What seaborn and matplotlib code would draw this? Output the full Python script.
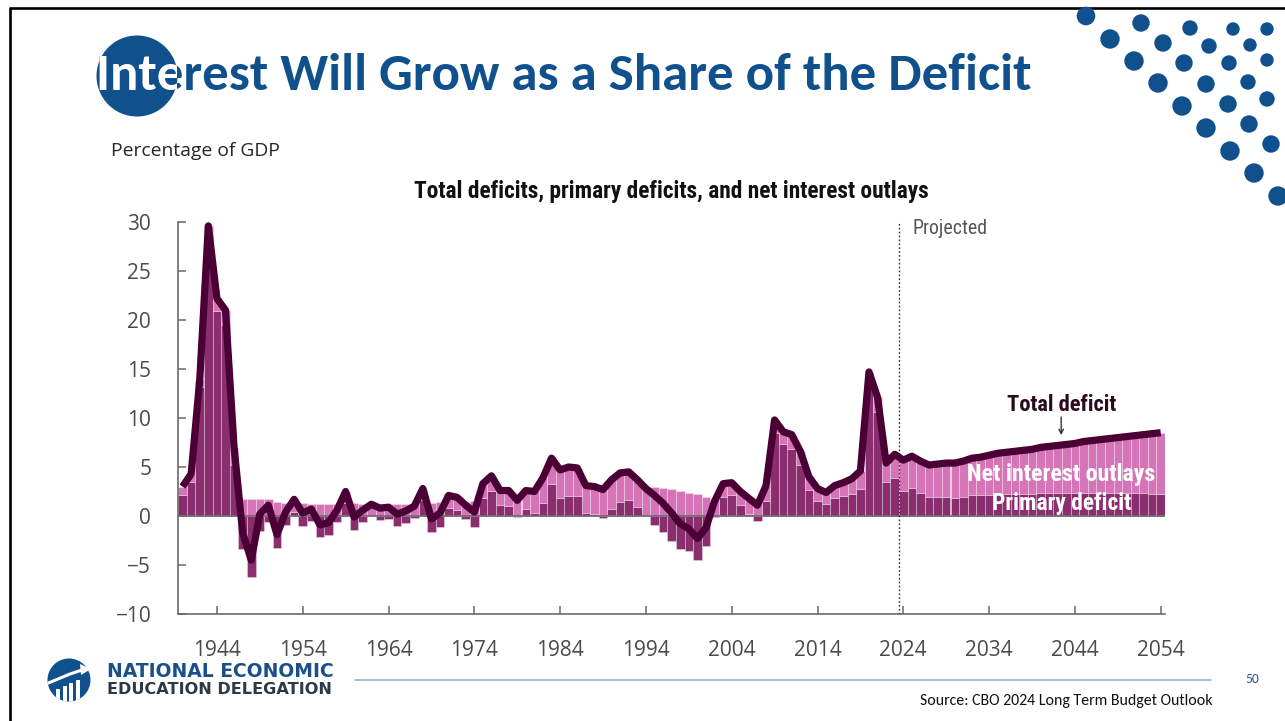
import numpy as np
import pandas as pd
import matplotlib
matplotlib.use("Agg")
import matplotlib.pyplot as plt
from matplotlib import font_manager as fm
from matplotlib.patches import Circle, Rectangle, Polygon
from matplotlib.transforms import Bbox
import seaborn as sns

# ---------------------------------------------------------------------------
# Data: fiscal years, percentage of GDP (1940-2023 actual, 2024-2054 projected)
# ---------------------------------------------------------------------------
years = list(range(1940, 2055))

total_deficit = [
    3.0, 4.3, 13.9, 29.6, 22.2, 21.0, 7.0, -1.7, -4.5, 0.2,       # 1940s
    1.1, -1.9, 0.4, 1.7, 0.3, 0.7, -0.9, -0.7, 0.6, 2.5,          # 1950s
    -0.1, 0.6, 1.2, 0.8, 0.9, 0.2, 0.5, 1.0, 2.8, -0.3,           # 1960s
    0.3, 2.1, 1.9, 1.1, 0.4, 3.3, 4.1, 2.6, 2.6, 1.6,             # 1970s
    2.6, 2.5, 3.9, 5.9, 4.7, 5.0, 4.9, 3.1, 3.0, 2.7,             # 1980s
    3.7, 4.4, 4.5, 3.7, 2.8, 2.1, 1.3, 0.3, -0.8, -1.3,           # 1990s
    -2.3, -1.2, 1.5, 3.3, 3.4, 2.5, 1.8, 1.1, 3.1, 9.8,           # 2000s
    8.6, 8.3, 6.6, 4.0, 2.8, 2.4, 3.1, 3.4, 3.8, 4.6,             # 2010s
    14.7, 12.1, 5.4, 6.3,                                          # 2020-2023
    5.7, 6.1, 5.6, 5.2, 5.3, 5.4, 5.4,                             # 2024-2030
    5.6, 5.9, 6.0, 6.2, 6.4, 6.5, 6.6, 6.7, 6.8, 7.0,             # 2031-2040
    7.1, 7.2, 7.3, 7.4, 7.6, 7.7, 7.8, 7.9, 8.0, 8.1,             # 2041-2050
    8.2, 8.3, 8.4, 8.5,                                            # 2051-2054
]

net_interest = [
    0.9, 0.8, 0.7, 0.9, 1.3, 1.5, 1.8, 1.7, 1.7, 1.7,
    1.7, 1.4, 1.3, 1.3, 1.3, 1.2, 1.2, 1.2, 1.2, 1.2,
    1.3, 1.2, 1.2, 1.2, 1.2, 1.2, 1.2, 1.2, 1.2, 1.3,
    1.4, 1.3, 1.3, 1.4, 1.5, 1.5, 1.5, 1.5, 1.6, 1.7,
    1.9, 2.2, 2.6, 2.6, 2.9, 3.0, 2.9, 2.8, 2.8, 2.9,
    3.0, 3.0, 2.9, 2.8, 2.7, 3.0, 2.9, 2.8, 2.6, 2.3,
    2.2, 1.9, 1.6, 1.4, 1.3, 1.4, 1.6, 1.6, 1.6, 1.3,
    1.3, 1.5, 1.4, 1.3, 1.3, 1.2, 1.3, 1.4, 1.6, 1.8,
    1.6, 1.5, 1.9, 2.4,
    3.1, 3.2, 3.3, 3.3, 3.4, 3.5, 3.6,
    3.7, 3.8, 3.9, 4.1, 4.2, 4.3, 4.4, 4.5, 4.6, 4.7,
    4.8, 4.9, 5.0, 5.1, 5.3, 5.4, 5.5, 5.6, 5.7, 5.8,
    5.9, 6.0, 6.2, 6.3,
]

primary_deficit = [
    2.1, 3.5, 13.2, 28.7, 20.9, 19.5, 5.2, -3.4, -6.2, -1.5,
    -0.6, -3.3, -0.9, 0.4, -1.0, -0.5, -2.1, -1.9, -0.6, 1.3,
    -1.4, -0.6, 0.0, -0.4, -0.3, -1.0, -0.7, -0.2, 1.6, -1.6,
    -1.1, 0.8, 0.6, -0.3, -1.1, 1.8, 2.6, 1.1, 1.0, -0.1,
    0.7, 0.3, 1.3, 3.3, 1.8, 2.0, 2.0, 0.3, 0.2, -0.2,
    0.7, 1.4, 1.6, 0.9, 0.1, -0.9, -1.6, -2.5, -3.4, -3.6,
    -4.5, -3.1, -0.1, 1.9, 2.1, 1.1, 0.2, -0.5, 1.5, 8.5,
    7.3, 6.8, 5.2, 2.7, 1.5, 1.2, 1.8, 2.0, 2.2, 2.8,
    13.1, 10.6, 3.5, 3.9,
    2.6, 2.9, 2.3, 1.9, 1.9, 1.9, 1.8,
    1.9, 2.1, 2.1, 2.1, 2.2, 2.2, 2.2, 2.2, 2.2, 2.3,
    2.3, 2.3, 2.3, 2.3, 2.3, 2.3, 2.3, 2.3, 2.3, 2.3,
    2.3, 2.3, 2.2, 2.2,
]

x_ticks = list(range(1944, 2055, 10))
y_ticks = list(range(-10, 31, 5))
first_projected_year = 2024

# ---------------------------------------------------------------------------
# Styling
# ---------------------------------------------------------------------------
W, H = 1285, 721
BLUE = "#10508C"
DARK = "#8A2E70"
PINK = "#D575B8"
LINE = "#4A0034"
AXIS_GREY = "#6A6A6A"
TICK_TEXT = "#4A4A4A"


def pick(*names):
    for n in names:
        try:
            fm.findfont(fm.FontProperties(family=n), fallback_to_default=False)
            return n
        except Exception:
            pass
    return "DejaVu Sans"


BODY = pick("Open Sans", "Lato", "Roboto", "DejaVu Sans")
NARROW = pick("Liberation Sans Narrow", "Roboto Condensed", "Open Sans Condensed",
              "DejaVu Sans Condensed", "Roboto")
TITLE_FONT = pick("Carlito", "Lato", "Open Sans")
LOGO_FONT = pick("DejaVu Sans", "Liberation Sans")

sns.set_theme(style="white")
plt.rcParams["font.family"] = [BODY, "DejaVu Sans"]
plt.rcParams["axes.unicode_minus"] = True

fig = plt.figure(figsize=(W / 100, H / 100), dpi=100)
fig.patch.set_facecolor("white")

# Full-figure overlay in pixel units (origin top-left) for slide decorations
deco = fig.add_axes([0, 0, 1, 1])
deco.set_xlim(0, W)
deco.set_ylim(H, 0)
deco.axis("off")


def fit(t, target_px):
    r = fig.canvas.get_renderer()
    w = t.get_window_extent(renderer=r).width
    if w > 0:
        t.set_fontsize(t.get_fontsize() * target_px / w)


# Slide frame
deco.plot([9, W], [8, 8], color="black", lw=1.9, solid_capstyle="butt", zorder=1)
deco.plot([9.5, 9.5], [8, H], color="black", lw=1.9, solid_capstyle="butt", zorder=1)

# Dotted ornament, top right
dots = [
    (1086, 16, 9.3), (1141, 23, 8.7), (1190, 28, 7.7), (1233, 29, 6.7), (1267, 29, 6.7),
    (1110, 39, 9.7), (1163, 43, 8.7), (1209, 46, 7.7), (1250, 45, 6.7),
    (1134, 61, 9.7), (1184, 63, 8.7), (1229, 63, 7.7), (1267, 60, 6.7),
    (1158, 83, 9.7), (1206, 84, 8.7), (1248, 82, 7.7),
    (1182, 106, 9.7), (1228, 104, 8.7), (1267, 99, 7.7),
    (1206, 128, 9.7), (1249, 124, 8.7),
    (1230, 151, 9.7), (1271, 144, 8.7),
    (1254, 173, 9.7), (1278, 196, 9.7),
]
for cx, cy, r in dots:
    deco.add_patch(Circle((cx, cy), r, facecolor=BLUE, edgecolor="none", zorder=2))

# Slide title with the white-on-blue circle behind the first letters
title_txt = "Interest Will Grow as a Share of the Deficit"
title_circle = Circle((137, 76), 40.5, facecolor=BLUE, edgecolor="none", zorder=2)
deco.add_patch(title_circle)
t_blue = deco.text(96, 90, title_txt, color=BLUE, fontsize=34, fontweight="bold",
                   family=TITLE_FONT, ha="left", va="baseline", zorder=3)
fit(t_blue, 936)
t_white = deco.text(96, 90, title_txt, color="white", fontsize=t_blue.get_fontsize(),
                    fontweight="bold", family=TITLE_FONT, ha="left", va="baseline",
                    zorder=4, clip_on=True)
# white part limited to the circle's horizontal extent (display pixels, origin bottom-left)
t_white.set_clip_box(Bbox.from_extents(90, H - 120, 176.5, H - 30))

# Unit label and chart heading
t = deco.text(111, 156, "Percentage of GDP", color="#262626", fontsize=13,
              family=BODY, ha="left", va="baseline")
fit(t, 168)
t = deco.text(671, 198, "Total deficits, primary deficits, and net interest outlays",
              color="#111111", fontsize=14, fontweight="bold", family=NARROW,
              ha="center", va="baseline")
fit(t, 520)

# Footer: logo, rule, page number, source
logo = Circle((69, 680), 21.5, facecolor=BLUE, edgecolor="none", zorder=2)
deco.add_patch(logo)
logo_clip = Circle((69, 680), 21.5, transform=deco.transData)
for bx, top in [(56, 689), (62.5, 686), (69, 683), (75.5, 680)]:
    bar = Rectangle((bx, top), 4.2, 30, facecolor="white", edgecolor="none", zorder=3)
    deco.add_patch(bar)
    bar.set_clip_path(logo_clip)
swoosh, = deco.plot([46, 58, 70, 82], [684, 679, 674, 670], color="white", lw=2.2,
                    solid_capstyle="butt", zorder=3)
swoosh.set_clip_path(logo_clip)
head = Polygon([[80, 664], [91, 669], [81, 675]], closed=True, facecolor="white",
               edgecolor="none", zorder=3)
deco.add_patch(head)

t = deco.text(107, 677, "NATIONAL ECONOMIC", color="#1A4F8B", fontsize=12,
              fontweight="bold", family=LOGO_FONT, ha="left", va="baseline")
fit(t, 226)
t = deco.text(107, 694, "EDUCATION DELEGATION", color="#2C3A46", fontsize=12,
              fontweight="bold", family=LOGO_FONT, ha="left", va="baseline")
fit(t, 225)

deco.plot([355, 1211], [680, 680], color="#8FAACD", lw=1.1, zorder=1)
t = deco.text(1252, 679, "50", color="#2F5597", fontsize=10, family=TITLE_FONT,
              ha="center", va="center")
fit(t, 14)
t = deco.text(1213, 701, "Source: CBO 2024 Long Term Budget Outlook", color="#111111",
              fontsize=10, family=TITLE_FONT, ha="right", va="center")
fit(t, 292)

# ---------------------------------------------------------------------------
# Chart
# ---------------------------------------------------------------------------
df = pd.DataFrame({
    "year": years,
    "total": total_deficit,
    "interest": net_interest,
    "primary": primary_deficit,
})
# Net interest stacks on a primary deficit; it starts at zero in primary-surplus years
interest_base = df["primary"].clip(lower=0).to_numpy()

left, right = 178.3, 1165.0
y_zero_px, px_per_unit = 516.0, 9.8
top_px = y_zero_px - 30 * px_per_unit
bottom_px = y_zero_px + 10 * px_per_unit
ax = fig.add_axes([left / W, 1 - bottom_px / H, (right - left) / W, (bottom_px - top_px) / H])
ax.patch.set_alpha(0)

sep = (1, 1, 1, 0.3)
sns.barplot(data=df, x="year", y="primary", native_scale=True, width=1.0,
            color=DARK, saturation=1, errorbar=None, edgecolor=sep, linewidth=0.7,
            ax=ax, zorder=1)
sns.barplot(data=df, x="year", y="interest", native_scale=True, width=1.0,
            color=PINK, saturation=1, errorbar=None, edgecolor=sep, linewidth=0.7,
            bottom=interest_base, ax=ax, zorder=1)

ax.axhline(0, color="#707070", lw=1.3, zorder=3)
ax.axvline(first_projected_year - 0.5, color="#333333", lw=1.0,
           linestyle=(0, (1.2, 1.6)), zorder=3)

sns.lineplot(data=df, x="year", y="total", color=LINE, linewidth=5.2, errorbar=None,
             solid_joinstyle="round", solid_capstyle="butt", ax=ax, zorder=4)

ax.set_xlim(1939.5, 2054.5)
ax.set_ylim(-10, 30)
ax.set_xlabel("")
ax.set_ylabel("")
ax.set_xticks(x_ticks)
ax.set_xticklabels([str(v) for v in x_ticks])
ax.set_yticks(y_ticks)
ax.set_yticklabels([str(v).replace("-", "\u2212") for v in y_ticks])
ax.grid(False)

for side in ("top", "right"):
    ax.spines[side].set_visible(False)
for side in ("left", "bottom"):
    ax.spines[side].set_color(AXIS_GREY)
    ax.spines[side].set_linewidth(1.2)

ax.tick_params(axis="both", direction="in", length=6, width=1.1, color=AXIS_GREY,
               labelcolor=TICK_TEXT, labelsize=15)
ax.tick_params(axis="x", pad=19, bottom=True)
ax.tick_params(axis="y", pad=19.5, left=True)
for lab in ax.get_xticklabels() + ax.get_yticklabels():
    lab.set_family(BODY)

# Series labels
t = ax.text(2025.1, 29.3, "Projected", color="#555555", fontsize=13, family=NARROW,
            ha="left", va="center")
fit(t, 75)
t = ax.text(2042.4, 11.3, "Total deficit", color="#2B0A20", fontsize=14,
            fontweight="bold", family=NARROW, ha="center", va="center")
fit(t, 110)
ax.annotate("", xy=(2042.4, 8.25), xytext=(2042.4, 10.1),
            arrowprops=dict(arrowstyle="->", color="#333333", lw=1.0,
                            shrinkA=0, shrinkB=0, mutation_scale=8))
t = ax.text(2042.4, 4.2, "Net interest outlays", color="white", fontsize=15,
            fontweight="bold", family=NARROW, ha="center", va="center", zorder=6)
fit(t, 188)
t = ax.text(2042.5, 1.3, "Primary deficit", color="white", fontsize=15,
            fontweight="bold", family=NARROW, ha="center", va="center", zorder=6)
fit(t, 140)

fig.savefig("out.png", dpi=100)
